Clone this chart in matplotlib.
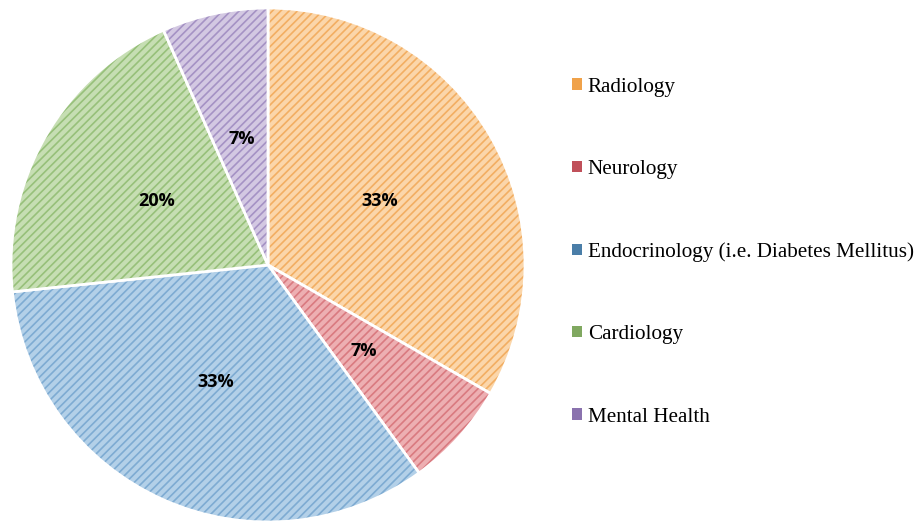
import matplotlib
matplotlib.use("Agg")
import matplotlib.pyplot as plt
from matplotlib.patches import Patch

# department share (5/15, 1/15, 5/15, 3/15, 1/15)
departments = ["Radiology", "Neurology", "Endocrinology (i.e. Diabetes Mellitus)",
               "Cardiology", "Mental Health"]
counts = [5, 1, 5, 3, 1]

fills = ["#FBD6AA", "#EDAFB2", "#B3D0E8", "#C6DEB3", "#D3C8E2"]
hatches = ["#F2AE62", "#D97A80", "#7EABD2", "#97C07A", "#A592C4"]
legend_cols = ["#F0A24A", "#C0505A", "#4A7EA8", "#80A860", "#8A72AE"]

plt.rcParams["hatch.linewidth"] = 1.2

fig = plt.figure(figsize=(9.22, 5.22), dpi=100)
ax = fig.add_axes([11 / 922, 0.0, 514 / 922, 514 / 522])

wedges, texts, pcts = ax.pie(counts, startangle=90, counterclock=False,
                             autopct=lambda p: "%d%%" % round(p), pctdistance=0.5,
                             wedgeprops=dict(edgecolor="white", linewidth=2))
for w, f, h in zip(wedges, fills, hatches):
    w.set_facecolor(f)
    w.set_hatch("////")
    w._hatch_color = matplotlib.colors.to_rgba(h)
for t in pcts:
    t.set_fontfamily("Open Sans")
    t.set_fontweight("bold")
    t.set_fontsize(13)
    t.set_color("black")
ax.set_xlim(-1, 1)
ax.set_ylim(-1, 1)
ax.set_aspect("equal")

handles = [Patch(facecolor=c, edgecolor="none") for c in legend_cols]
fig.legend(handles, departments, loc="center left", bbox_to_anchor=(0.609, 0.517),
           frameon=False, prop=dict(family="Liberation Serif", size=15.2),
           handlelength=0.45, handleheight=0.45, handletextpad=0.3, labelspacing=3.0,
           borderpad=0)

fig.savefig("out.png", dpi=100)
